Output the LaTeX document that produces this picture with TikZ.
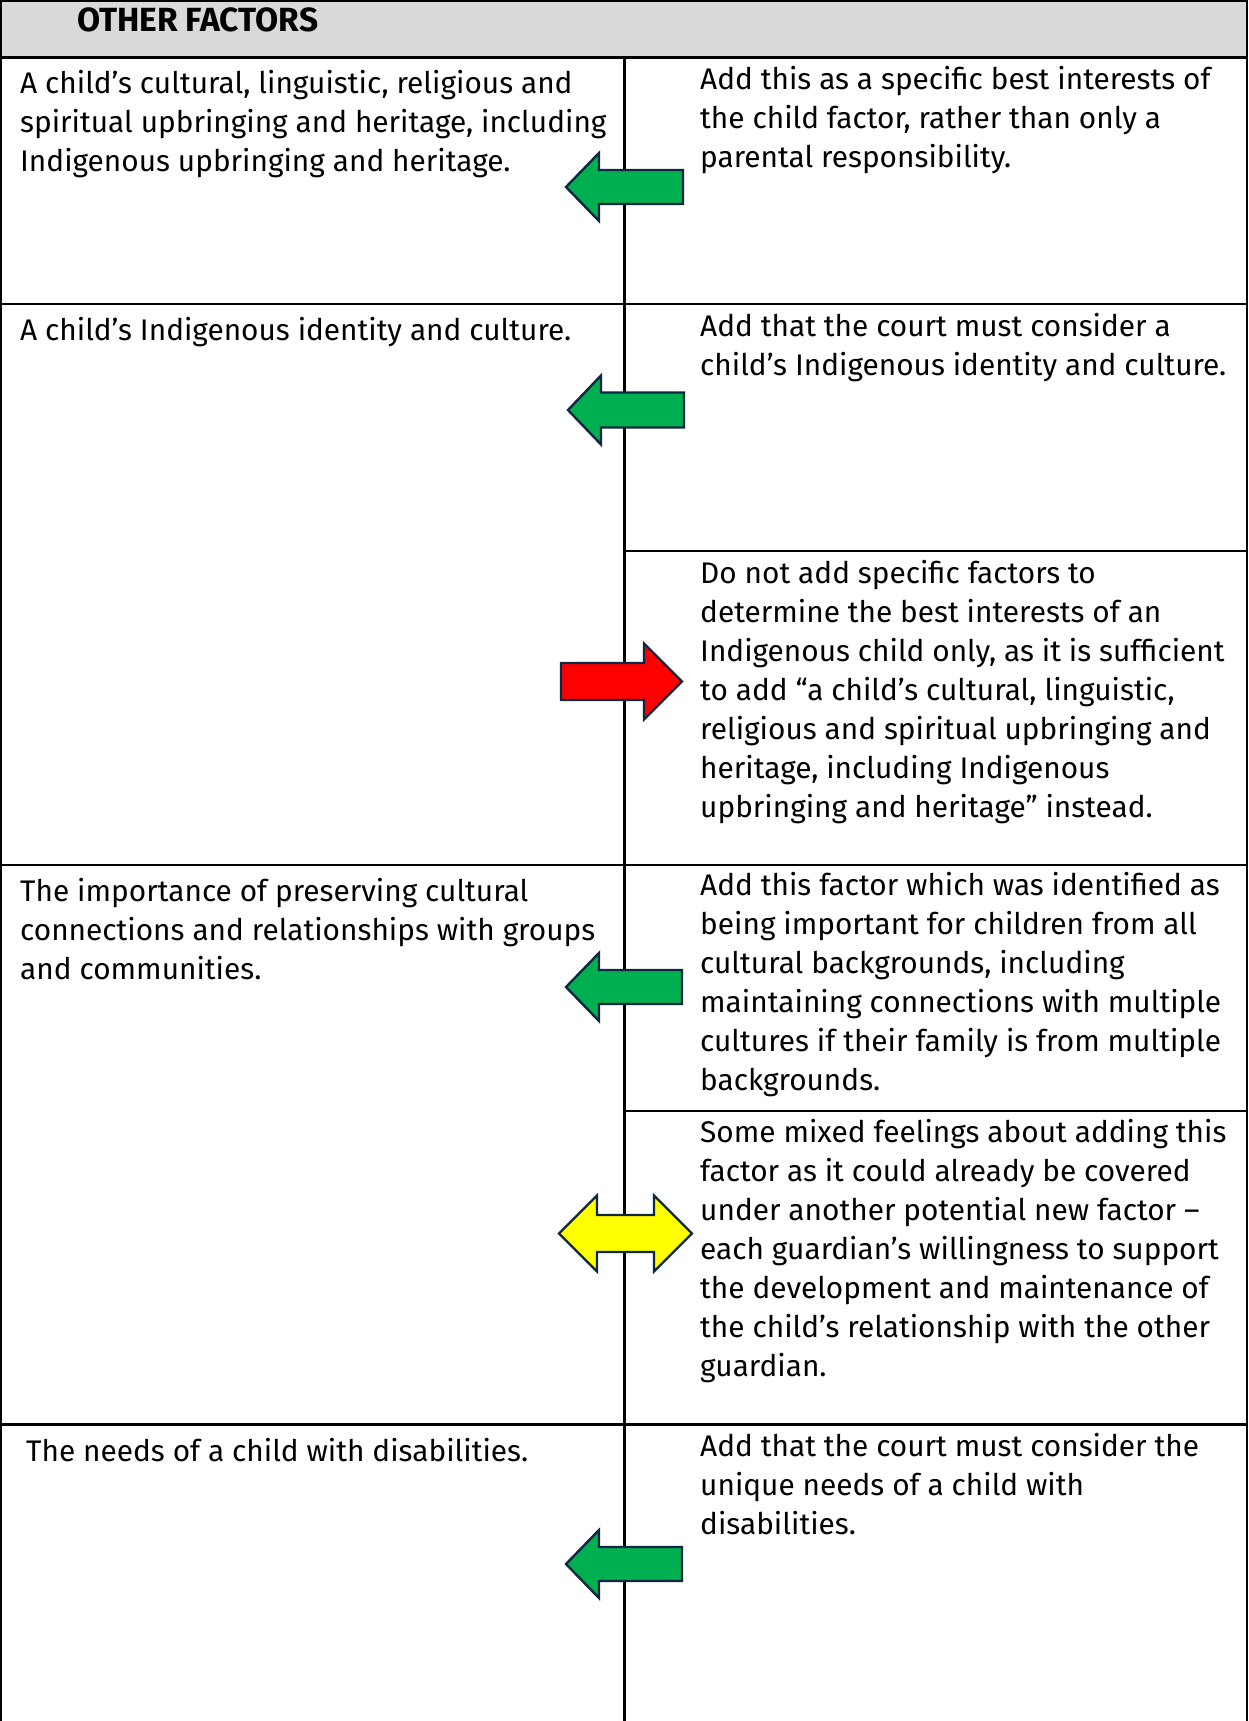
\documentclass[tikz,border=0pt]{standalone}
\usepackage{fontspec}
\setmainfont{Fira Sans}
\definecolor{hdrgray}{HTML}{D9D9D9}
\definecolor{agreen}{HTML}{00B050}
\definecolor{ared}{HTML}{FF0000}
\definecolor{ayellow}{HTML}{FFFF00}
\definecolor{aline}{HTML}{0E2841}
\newcommand{\celltext}[1]{\parbox[t]{720pt}{\fontsize{29.8}{39}\selectfont #1}}
\begin{document}
\begin{tikzpicture}[x=1pt,y=-1pt,
  rule/.style={draw=black,line width=2.2pt},
  cell/.style={anchor=base west,inner sep=0pt,text=black},
  hdr/.style={anchor=base west,inner sep=0pt,text=black,font=\fontsize{33.5}{35}\selectfont\bfseries},
  arrowshape/.style={draw=aline,line width=2.4pt,line join=miter},
  greenarrow/.style={arrowshape,fill=agreen},
  redarrow/.style={arrowshape,fill=ared},
  yellowarrow/.style={arrowshape,fill=ayellow}]
\useasboundingbox (0,0) rectangle (1249,1721);
% header
\fill[hdrgray] (1,1) rectangle (1247,57);
\draw[rule] (1,1721) -- (1,1) -- (1247,1) -- (1247,1721);
\draw[rule,line width=3pt] (1,57) -- (1247,57);
% grid
\draw[rule] (624.5,57) -- (624.5,1721);
\draw[rule] (1,304) -- (1247,304);
\draw[rule] (624.5,551) -- (1247,551);
\draw[rule] (1,865) -- (1247,865);
\draw[rule] (624.5,1111) -- (1247,1111);
\draw[rule] (1,1424.5) -- (1247,1424.5);
% header text
\node[hdr] (title) at (77,31.5) {OTHER FACTORS};
% row 1
\node[cell] (l1) at (20,93.5) {\celltext{A child’s cultural, linguistic, religious and\\spiritual upbringing and heritage, including\\Indigenous upbringing and heritage.}};
\node[cell] (r1) at (700,89) {\celltext{Add this as a specific best interests of\\the child factor, rather than only a\\parental responsibility.}};
% row 2
\node[cell] (l2) at (20,340.5) {\celltext{A child’s Indigenous identity and culture.}};
\node[cell] (r2) at (700,336) {\celltext{Add that the court must consider a\\child’s Indigenous identity and culture.}};
\node[cell] (r2b) at (700,583) {\celltext{Do not add specific factors to\\determine the best interests of an\\Indigenous child only, as it is sufficient\\to add “a child’s cultural, linguistic,\\religious and spiritual upbringing and\\heritage, including Indigenous\\upbringing and heritage” instead.}};
% row 3
\node[cell] (l3) at (20,901) {\celltext{The importance of preserving cultural\\connections and relationships with groups\\and communities.}};
\node[cell] (r3) at (700,895.5) {\celltext{Add this factor which was identified as\\being important for children from all\\cultural backgrounds, including\\maintaining connections with multiple\\cultures if their family is from multiple\\backgrounds.}};
\node[cell] (r3b) at (700,1142.5) {\celltext{Some mixed feelings about adding this\\factor as it could already be covered\\under another potential new factor –\\each guardian’s willingness to support\\the development and maintenance of\\the child’s relationship with the other\\guardian.}};
% row 4
\node[cell] (l4) at (26,1461) {\celltext{The needs of a child with disabilities.}};
\node[cell] (r4) at (700,1456.5) {\celltext{Add that the court must consider the\\unique needs of a child with\\disabilities.}};
% arrows
\draw[greenarrow] (566,187) -- (599,153) -- (599,170) -- (683,170) -- (683,204) -- (599,204) -- (599,221) -- cycle;
\draw[greenarrow] (568,410) -- (601,375.5) -- (601,392.5) -- (684,392.5) -- (684,427.5) -- (601,427.5) -- (601,444.5) -- cycle;
\draw[redarrow] (561,663) -- (644,663) -- (644,643.5) -- (682,681.5) -- (644,719.5) -- (644,700) -- (561,700) -- cycle;
\draw[greenarrow] (566,987) -- (599,953) -- (599,970) -- (682,970) -- (682,1004) -- (599,1004) -- (599,1021) -- cycle;
\draw[yellowarrow] (559,1233.5) -- (597,1195.5) -- (597,1215) -- (654,1215) -- (654,1195.5) -- (692,1233.5) -- (654,1271.5) -- (654,1252) -- (597,1252) -- (597,1271.5) -- cycle;
\draw[greenarrow] (566,1564) -- (599,1530) -- (599,1547) -- (682,1547) -- (682,1581) -- (599,1581) -- (599,1598) -- cycle;
\end{tikzpicture}
\end{document}
